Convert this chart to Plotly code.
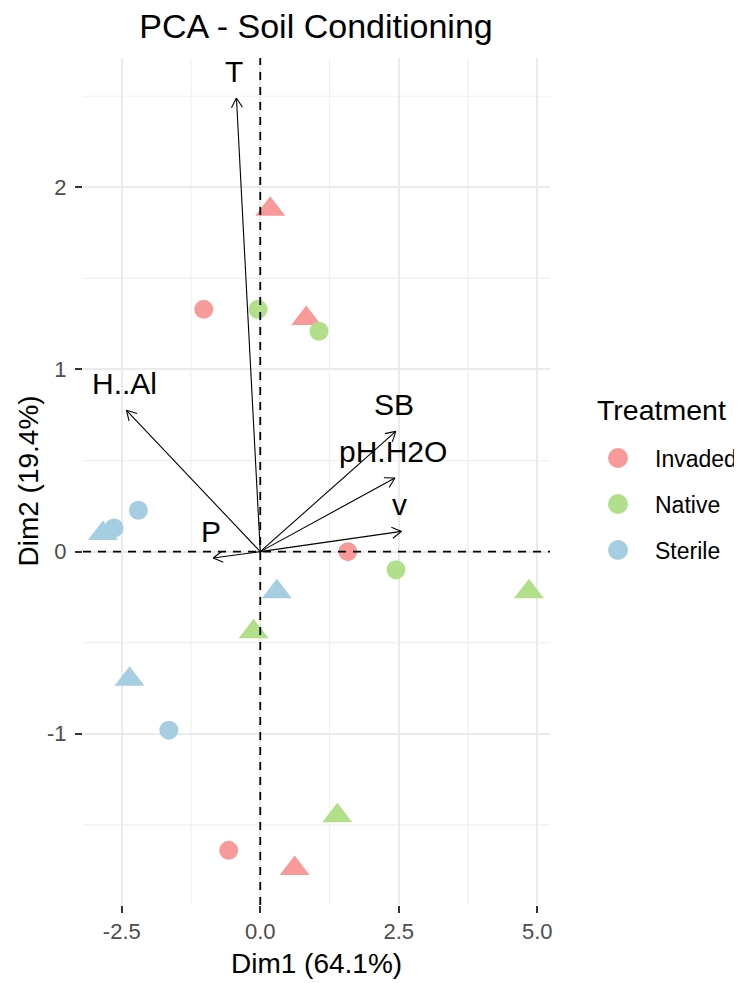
import math
import plotly.graph_objects as go

# ---------------- data ----------------
treatments = ["Invaded", "Native", "Sterile"]
colors = ["#F8999A", "#B2DF8A", "#A6CEE3"]

# individuals (Dim1, Dim2), marker kind: circle / triangle
inv_dim1 = [-1.02, 1.58, -0.57, 0.18, 0.83, 0.62]
inv_dim2 = [1.33, 0.00, -1.64, 1.88, 1.28, -1.74]
inv_kind = ["circle", "circle", "circle", "triangle", "triangle", "triangle"]

nat_dim1 = [-0.04, 1.06, 2.45, 4.85, -0.12, 1.39]
nat_dim2 = [1.33, 1.21, -0.10, -0.22, -0.44, -1.45]
nat_kind = ["circle", "circle", "circle", "triangle", "triangle", "triangle"]

ste_dim1 = [-2.20, -2.64, -1.65, -2.84, 0.30, -2.36]
ste_dim2 = [0.227, 0.13, -0.98, 0.10, -0.22, -0.70]
ste_kind = ["circle", "circle", "circle", "triangle", "triangle", "triangle"]

# variable loadings (arrow tips)
var_names = ["T", "H..Al", "SB", "pH.H2O", "v", "P"]
load_dim1 = [-0.43, -2.415, 2.446, 2.43, 2.55, -0.85]
load_dim2 = [2.49, 0.776, 0.66, 0.404, 0.111, -0.035]

x_ticks = [-2.5, 0.0, 2.5, 5.0]
x_tick_text = ["-2.5", "0.0", "2.5", "5.0"]
x_minor = [-1.25, 1.25, 3.75]
y_ticks = [-1, 0, 1, 2]
y_tick_text = ["-1", "0", "1", "2"]
y_minor = [-1.5, -0.5, 0.5, 1.5, 2.5]

# ---------------- layout constants ----------------
OFF = 8                      # page body margin of the html page
W, H = 742 - OFF, 983 - OFF
ML, MR, MT, MB = 83 - OFF, 192, 58 - OFF, 78
XR = [-3.20, 5.23]
YR = [-1.94, 2.71]
PW, PH = W - ML - MR, H - MT - MB
SX = PW / (XR[1] - XR[0])
SY = PH / (YR[1] - YR[0])
FONT = "Liberation Sans, Arial, sans-serif"


def px_to_paper(xp, yp):
    """window pixel -> paper coordinates"""
    return (xp - OFF - ML) / PW, 1 - (yp - OFF - MT) / PH


fig = go.Figure()

# minor grid lines
for v in x_minor:
    fig.add_shape(type="line", xref="x", yref="paper", x0=v, x1=v, y0=0, y1=1,
                  line=dict(color="#F0F0F0", width=1.2), layer="below")
for v in y_minor:
    fig.add_shape(type="line", xref="paper", yref="y", x0=0, x1=1, y0=v, y1=v,
                  line=dict(color="#F0F0F0", width=1.2), layer="below")

# points
groups = [(inv_dim1, inv_dim2, inv_kind), (nat_dim1, nat_dim2, nat_kind),
          (ste_dim1, ste_dim2, ste_kind)]
for name, col, (gx, gy, gk) in zip(treatments, colors, groups):
    for kind, sym, size in [("circle", "circle", 19), ("triangle", "triangle-up", 26)]:
        xs = [a for a, k in zip(gx, gk) if k == kind]
        ys = [b for b, k in zip(gy, gk) if k == kind]
        fig.add_trace(go.Scatter(
            x=xs, y=ys, mode="markers", name=name, showlegend=False,
            marker=dict(symbol=sym, size=size, color=col, line=dict(width=0)),
            hoverinfo="skip"))

# dashed zero lines (above points, as in the reference)
fig.add_shape(type="line", xref="x", yref="paper", x0=0, x1=0, y0=0, y1=1,
              line=dict(color="black", width=1.8, dash="8px,7px"), layer="above")
fig.add_shape(type="line", xref="paper", yref="y", x0=0, x1=1, y0=0, y1=0,
              line=dict(color="black", width=1.8, dash="8px,7px"), layer="above")

# arrows: shafts + open heads
ax, ay = [], []
hx, hy = [], []
L = 11.0
ang = math.radians(30)
for x, y in zip(load_dim1, load_dim2):
    ax += [0, x, None]
    ay += [0, y, None]
    px, py = x * SX, -y * SY
    n = math.hypot(px, py)
    ux, uy = px / n, py / n
    for s in (1, -1):
        c, si = math.cos(s * ang), math.sin(s * ang)
        rx, ry = ux * c - uy * si, ux * si + uy * c
        hx += [x - L * rx / SX, x, None]
        hy += [y + L * ry / SY, y, None]

fig.add_trace(go.Scatter(x=ax, y=ay, mode="lines", showlegend=False,
                         line=dict(color="black", width=1.1), hoverinfo="skip"))
fig.add_trace(go.Scatter(x=hx, y=hy, mode="lines", showlegend=False,
                         line=dict(color="black", width=1.1), hoverinfo="skip"))

# variable labels
for name, x, y in zip(var_names, load_dim1, load_dim2):
    fig.add_annotation(x=x, y=y, text=name, showarrow=False, xref="x", yref="y",
                       xanchor="center", yanchor="middle", xshift=-2, yshift=27,
                       font=dict(family=FONT, size=30, color="black"))

# axis titles
ax1x, ax1y = px_to_paper(316, 963)
fig.add_annotation(text="Dim1 (64.1%)", xref="paper", yref="paper",
                   x=0.5, y=ax1y, xanchor="center", yanchor="middle",
                   showarrow=False, font=dict(family=FONT, size=28, color="black"))
ax2x, ax2y = px_to_paper(28, 482)
fig.add_annotation(text="Dim2 (19.4%)", xref="paper", yref="paper",
                   x=ax2x, y=0.5, xanchor="center", yanchor="middle",
                   textangle=-90, showarrow=False,
                   font=dict(family=FONT, size=28, color="black"))

# legend (drawn manually to match spacing)
tx, ty = px_to_paper(595, 410)
fig.add_annotation(text="Treatment", xref="paper", yref="paper", x=tx, y=ty,
                   xanchor="left", yanchor="middle", showarrow=False,
                   font=dict(family=FONT, size=28.5, color="black"))
for i, (name, col) in enumerate(zip(treatments, colors)):
    cy = 458 + 46 * i
    mx, my = px_to_paper(618, cy)
    fig.add_shape(type="circle", xref="paper", yref="paper", xsizemode="pixel",
                  ysizemode="pixel", xanchor=mx, yanchor=my, x0=-10, x1=10, y0=-10, y1=10,
                  fillcolor=col, line=dict(width=0))
    lx, ly = px_to_paper(653, cy + 1)
    fig.add_annotation(text=name, xref="paper", yref="paper", x=lx, y=ly,
                       xanchor="left", yanchor="middle", showarrow=False,
                       font=dict(family=FONT, size=23, color="black"))

fig.update_layout(
    width=W, height=H,
    margin=dict(l=ML, r=MR, t=MT, b=MB),
    paper_bgcolor="white", plot_bgcolor="white",
    showlegend=False,
    title=dict(text="PCA - Soil Conditioning", x=(316 - OFF) / W,
               xanchor="center", y=1 - (26 - OFF) / H, yanchor="middle",
               font=dict(family=FONT, size=34, color="black")),
    xaxis=dict(range=XR, tickvals=x_ticks, ticktext=x_tick_text, showgrid=True,
               gridcolor="#EBEBEB", gridwidth=1.5, zeroline=False, showline=False,
               ticks="outside", ticklen=7, tickwidth=1.5, tickcolor="#333333",
               tickfont=dict(family=FONT, size=22, color="#4D4D4D")),
    yaxis=dict(range=YR, tickvals=y_ticks, ticktext=y_tick_text, showgrid=True,
               gridcolor="#EBEBEB", gridwidth=1.5, zeroline=False, showline=False,
               ticks="outside", ticklen=7, tickwidth=1.5, tickcolor="#333333",
               ticklabelstandoff=4,
               tickfont=dict(family=FONT, size=22, color="#4D4D4D")),
)

fig.write_html("out.html")
